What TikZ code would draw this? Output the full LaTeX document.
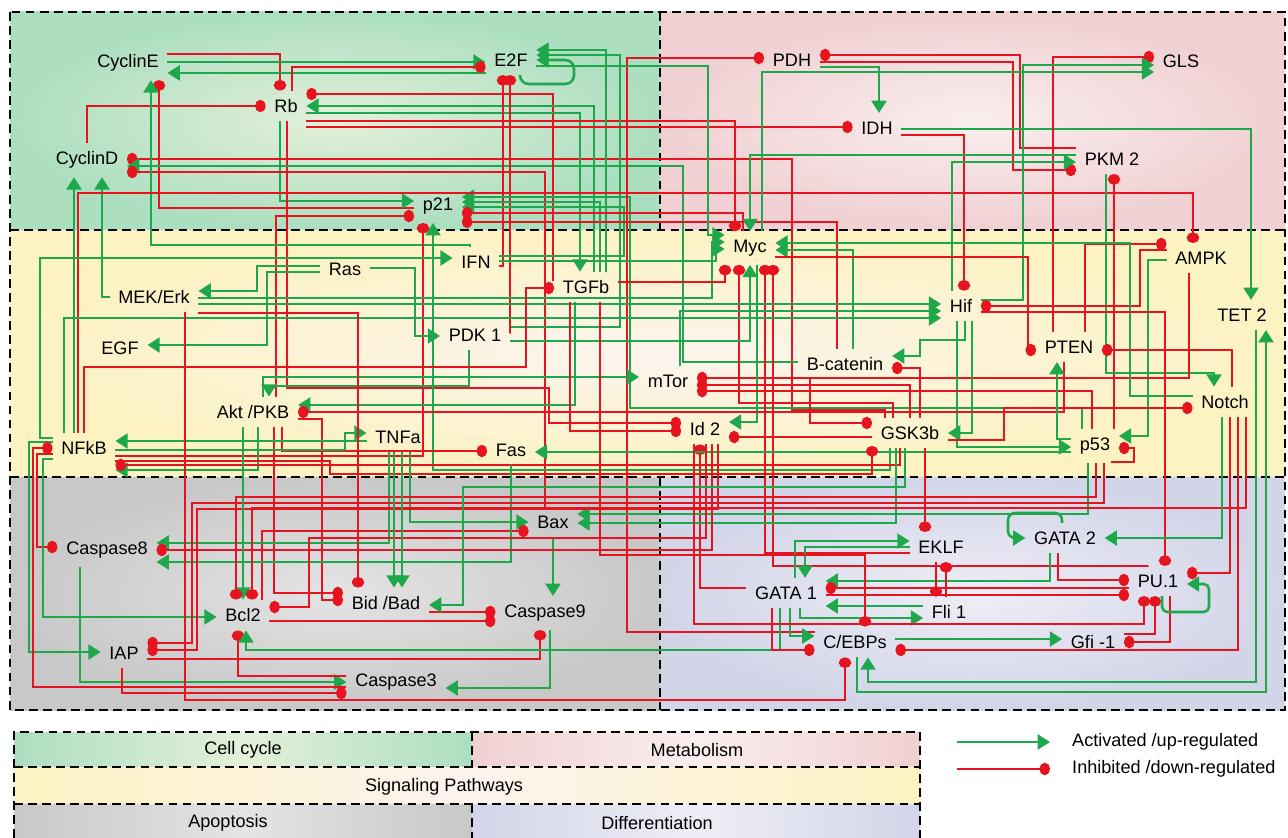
\documentclass[tikz,border=0pt]{standalone}
\usepackage{fontspec}
\setmainfont{Liberation Sans}
\usetikzlibrary{arrows.meta}
\definecolor{upgreen}{RGB}{30,168,75}
\definecolor{downred}{RGB}{230,20,30}
\definecolor{cellout}{RGB}{172,222,192}
\definecolor{cellin}{RGB}{228,240,218}
\definecolor{metout}{RGB}{240,208,210}
\definecolor{metin}{RGB}{250,238,238}
\definecolor{sigout}{RGB}{252,242,194}
\definecolor{sigin}{RGB}{252,244,238}
\definecolor{apoout}{RGB}{200,200,200}
\definecolor{apoin}{RGB}{228,228,228}
\definecolor{difout}{RGB}{210,213,232}
\definecolor{difin}{RGB}{238,238,246}
\begin{document}
\begin{tikzpicture}[x=0.02cm,y=-0.02cm]

\tikzset{gene/.style={font=\fontsize{10.3}{12}\selectfont,inner sep=1pt,outer sep=4pt}}
\tikzset{act/.style={draw=upgreen,line width=1.45pt,-{Triangle[length=7pt,width=8.5pt]}}}
\tikzset{inh/.style={draw=downred,line width=1.45pt,-{Circle[length=6pt,width=7pt]}}}
\tikzset{zone/.style={draw=black,line width=1pt,dash pattern=on 5pt off 3pt}}
\tikzset{keytext/.style={font=\fontsize{10.3}{12}\selectfont}}

\useasboundingbox (0,0) rectangle (1288,838);

% regions
\shade[inner color=cellin,outer color=cellout] (10,12) rectangle (660,230);
\shade[inner color=metin,outer color=metout] (660,12) rectangle (1285,230);
\shade[inner color=sigin,outer color=sigout] (10,230) rectangle (1285,477);
\shade[inner color=apoin,outer color=apoout] (10,477) rectangle (660,710);
\shade[inner color=difin,outer color=difout] (660,477) rectangle (1285,710);
\draw[zone] (10,12) rectangle (1285,710);
\draw[zone] (10,230) -- (1285,230) (10,477) -- (1285,477)
            (660,12) -- (660,230) (660,477) -- (660,710);

% genes
\node[gene] (cyclinE) at (128,63)  {CyclinE};
\node[gene] (e2f)     at (511,60)  {E2F};
\node[gene] (rb)      at (286,106) {Rb};
\node[gene] (cyclinD) at (87,160)  {CyclinD};
\node[gene] (p21)     at (438,206) {p21};
\node[gene] (pdh)     at (792,60)  {PDH};
\node[gene] (gls)     at (1181,61) {GLS};
\node[gene] (idh)     at (877,128) {IDH};
\node[gene] (pkm)     at (1112,159) {PKM 2};
\node[gene] (ampk)    at (1201,258) {AMPK};
\node[gene] (myc)     at (750,248) {Myc};
\node[gene] (ifn)     at (476,262) {IFN};
\node[gene] (ras)     at (345,269) {Ras};
\node[gene] (tgfb)    at (586,287) {TGFb};
\node[gene] (mek)     at (154,297) {MEK/Erk};
\node[gene] (hif)     at (961,306) {Hif};
\node[gene] (tet)     at (1242,315) {TET 2};
\node[gene] (pdk)     at (475,335) {PDK 1};
\node[gene] (egf)     at (120,348) {EGF};
\node[gene] (pten)    at (1069,347) {PTEN};
\node[gene] (bcat)    at (845,364) {B-catenin};
\node[gene] (mtor)    at (668,381) {mTor};
\node[gene] (akt)     at (253,412) {Akt /PKB};
\node[gene] (notch)   at (1225,402) {Notch};
\node[gene] (id2)     at (705,429) {Id 2};
\node[gene] (gsk)     at (910,433) {GSK3b};
\node[gene] (tnfa)    at (398,437) {TNFa};
\node[gene] (nfkb)    at (84,448)  {NFkB};
\node[gene] (fas)     at (511,450) {Fas};
\node[gene] (p53)     at (1095,446) {p53};
\node[gene] (bax)     at (553,522) {Bax};
\node[gene] (casp8)   at (107,550) {Caspase8};
\node[gene] (gata2)   at (1065,538) {GATA 2};
\node[gene] (eklf)    at (941,547) {EKLF};
\node[gene] (pu1)     at (1158,581) {PU.1};
\node[gene] (gata1)   at (786,593) {GATA 1};
\node[gene] (bidbad)  at (386,603) {Bid /Bad};
\node[gene] (bcl2)    at (243,615) {Bcl2};
\node[gene] (casp9)   at (545,613) {Caspase9};
\node[gene] (fli1)    at (949,612) {Fli 1};
\node[gene] (iap)     at (124,653) {IAP};
\node[gene] (gfi)     at (1093,642) {Gfi -1};
\node[gene] (cebp)    at (855,642) {C/EBPs};
\node[gene] (casp3)   at (396,682) {Caspase3};

% cell cycle
\draw[inh] (cyclinE.east |- 0,54) -| (rb.north -| 280,0);
\draw[act] (cyclinE.east |- 0,62) -- (e2f.west |- 0,62);
\draw[act] (e2f.west |- 0,73) -- (cyclinE.east |- 0,73);
\draw[inh] (rb.north -| 292,0) |- (e2f.west |- 0,67);
\draw[act,rounded corners=5pt] (e2f.south -| 520,0) |- (574,84) |- (e2f.east |- 0,60);
\draw[inh] (cyclinD.north -| 87,0) |- (rb.west |- 0,106);
\draw[inh] (p21.west |- 0,208) -| (cyclinE.south -| 159,0);
\draw[act] (rb.south -| 280,0) |- (p21.west |- 0,201);
\draw[inh] (akt.north -| 276,0) |- (p21.west |- 0,216);
\draw[inh] (rb.south -| 287,0) |- (549,388) |- (id2.west |- 0,423);
\draw[inh] (gsk.north -| 885,0) |- (792,410) |- (cyclinD.east |- 0,159);
\draw[act] (bcat.west |- 0,362) -| (683,166) -- (cyclinD.east |- 0,166);
\draw[inh] (bax.north -| 545,0) |- (cyclinD.east |- 0,172);
\draw[act] (nfkb.north -| 74,0) -- (cyclinD.south -| 74,0);
\draw[act] (mek.west |- 0,297) -| (cyclinD.south -| 102,0);
\draw[inh] (tgfb.west |- 0,280) -| (553,94) -- (rb.east |- 0,94);
\draw[act] (tgfb.north -| 594,0) |- (rb.east |- 0,106);
\draw[act] (rb.east |- 0,113) -| (tgfb.north -| 580,0);
\draw[inh] (rb.east |- 0,121) -| (myc.north -| 735,0);
\draw[act] (ifn.north -| 470,0) |- (151,245) -- (cyclinE.south -| 151,0);
\draw[act] (tgfb.north -| 606,0) |- (e2f.east |- 0,50);
\draw[act] (pdk.east |- 0,327) -| (620,55) -- (e2f.east |- 0,55);
\draw[inh] (pdk.east |- 0,333) -| (e2f.south -| 510,0);
\draw[inh] (ifn.east |- 0,266) -| (e2f.south -| 503,0);
\draw[act] (p53.north -| 1082,0) |- (630,408) |- (p21.east |- 0,197);
\draw[act] (tgfb.north -| 600,0) |- (p21.east |- 0,202);
\draw[act] (ifn.east |- 0,256) -| (624,207) -- (p21.east |- 0,207);
\draw[inh] (myc.north -| 743,0) |- (p21.east |- 0,213);
\draw[inh] (bcat.north -| 837,0) |- (p21.east |- 0,222);
\draw[inh] (nfkb.east |- 0,456) -| (p21.south -| 423,0);
\draw[act] (gsk.south -| 890,0) |- (433,470) -- (p21.south -| 433,0);
\draw[inh] (nfkb.north -| 78,0) |- (1193,193) -- (ampk.north -| 1193,0);

% metabolism
\draw[inh] (cebp.west |- 0,632) -| (627,58) -- (pdh.west |- 0,58);
\draw[inh] (pdh.east |- 0,62) -| (1013,170) -- (pkm.west |- 0,170);
\draw[inh] (pkm.west |- 0,148) -| (1020,55) -- (pdh.east |- 0,55);
\draw[act] (pdh.east |- 0,67) -| (idh.north -| 879,0);
\draw[inh] (rb.east |- 0,127) -- (idh.west |- 0,127);
\draw[act] (idh.east |- 0,129) -| (tet.north -| 1251,0);
\draw[inh] (idh.east |- 0,135) -| (hif.north -| 964,0);
\draw[inh] (pten.north -| 1053,0) |- (gls.west |- 0,57);
\draw[act] (hif.east |- 0,300) -| (1023,65) -- (gls.west |- 0,65);
\draw[act] (myc.north -| 762,0) |- (gls.west |- 0,72);
\draw[act] (pkm.west |- 0,155) -| (myc.north -| 750,0);
\draw[act] (hif.north -| 952,0) |- (pkm.west |- 0,162);
\draw[inh] (p53.north -| 1114,0) -- (pkm.south -| 1114,0);
\draw[act] (pkm.south -| 1106,0) |- (1214,373) -- (notch.north -| 1214,0);
\draw[inh] (ampk.west |- 0,250) -| (1140,306) -- (hif.east |- 0,306);
\draw[inh] (pten.north -| 1085,0) |- (ampk.west |- 0,244);
\draw[act] (ampk.west |- 0,260) -| (1148,436) -- (p53.east |- 0,436);
\draw[inh] (ampk.south -| 1189,0) |- (mtor.east |- 0,378);

% signaling
\draw[act] (e2f.east |- 0,66) -| (708,235) -- (myc.west |- 0,235);
\draw[act] (mek.east |- 0,298) -| (712,242) -- (myc.west |- 0,242);
\draw[act] (ifn.east |- 0,261) -| (716,249) -- (myc.west |- 0,249);
\draw[act] (bcat.north -| 853,0) |- (myc.east |- 0,250);
\draw[act] (notch.west |- 0,396) -| (1130,243) -- (myc.east |- 0,243);
\draw[inh] (myc.east |- 0,257) -| (1028,350) -- (pten.west |- 0,350);
\draw[inh] (tgfb.east |- 0,282) -| (myc.south -| 725,0);
\draw[inh] (gsk.north -| 893,0) |- (739,403) -- (myc.south -| 739,0);
\draw[act] (pdk.east |- 0,341) -| (myc.south -| 750,0);
\draw[act] (myc.south -| 757,0) |- (id2.east |- 0,422);
\draw[inh] (eklf.west |- 0,553) -| (myc.south -| 765,0);
\draw[inh] (pu1.north -| 1148,0) |- (773,566) -- (myc.south -| 773,0);
\draw[act] (mek.east |- 0,304) -- (hif.west |- 0,304);
\draw[act] (mtor.north -| 680,0) |- (hif.west |- 0,311);
\draw[act] (nfkb.north -| 64,0) |- (hif.west |- 0,318);
\draw[act] (hif.south -| 965,0) |- (920,340) |- (bcat.east |- 0,356);
\draw[inh] (hif.east |- 0,312) -| (pu1.north -| 1165,0);
\draw[act] (hif.south -| 972,0) |- (gsk.east |- 0,433);
\draw[act] (hif.south -| 957,0) |- (p53.west |- 0,447);
\draw[act] (akt.north -| 263,0) |- (mtor.west |- 0,377);
\draw[act] (pdk.south -| 469,0) |- (269,386) -- (akt.north -| 269,0);
\draw[act] (tgfb.south -| 575,0) |- (akt.east |- 0,405);
\draw[inh] (pten.south -| 1064,0) |- (akt.east |- 0,412);
\draw[inh] (akt.east |- 0,419) -| (322,600) -- (bidbad.west |- 0,600);
\draw[inh] (akt.south -| 274,0) |- (bidbad.west |- 0,593);
\draw[inh] (akt.south -| 282,0) |- (fas.west |- 0,451);
\draw[act] (akt.south -| 258,0) |- (nfkb.east |- 0,470);
\draw[inh] (gsk.north -| 910,0) |- (mtor.east |- 0,385);
\draw[inh] (p53.north -| 1092,0) |- (mtor.east |- 0,391);
\draw[inh] (bcat.south -| 810,0) |- (gsk.west |- 0,423);
\draw[inh] (gsk.north -| 920,0) |- (bcat.east |- 0,368);
\draw[inh] (tgfb.south -| 570,0) |- (id2.west |- 0,431);
\draw[inh] (gsk.west |- 0,437) -- (id2.east |- 0,437);
\draw[inh] (gata1.west |- 0,588) -| (id2.south -| 700,0);
\draw[inh] (notch.north -| 1232,0) |- (pten.east |- 0,350);
\draw[inh] (gsk.east |- 0,440) -| (1004,408) -- (notch.west |- 0,408);
\draw[act] (p53.west |- 0,439) -| (pten.south -| 1057,0);
\draw[act] (p53.west |- 0,452) -- (fas.east |- 0,452);
\draw[inh] (p53.south -| 1112,0) |- (1134,462) |- (p53.east |- 0,448);
\draw[act] (ras.west |- 0,266) -| (257,291) -- (mek.east |- 0,291);
\draw[act] (ras.west |- 0,272) -| (267,345) -- (egf.east |- 0,345);
\draw[act] (ras.east |- 0,268) -| (415,336) -- (pdk.west |- 0,336);
\draw[act] (nfkb.west |- 0,438) -| (40,258) -- (ifn.west |- 0,258);
\draw[inh] (nfkb.north -| 84,0) |- (526,367) |- (tgfb.west |- 0,288);
\draw[act] (tnfa.west |- 0,441) -- (nfkb.east |- 0,441);
\draw[act] (nfkb.east |- 0,450) -| (345,433) -- (tnfa.west |- 0,433);
\draw[inh] (nfkb.east |- 0,461) -| (330,474) -| (gsk.west |- 0,446);
\draw[inh] (gsk.south -| 900,0) |- (nfkb.east |- 0,465);

% apoptosis
\draw[act] (tnfa.south -| 410,0) |- (bax.west |- 0,522);
\draw[inh] (bcl2.north -| 262,0) |- (bax.west |- 0,531);
\draw[act] (bax.south -| 553,0) -- (casp9.north -| 553,0);
\draw[act] (p53.south -| 1088,0) |- (bax.east |- 0,514);
\draw[act] (gsk.south -| 896,0) |- (bax.east |- 0,523);
\draw[act] (tnfa.south -| 389,0) |- (casp8.east |- 0,543);
\draw[act] (fas.south -| 511,0) |- (casp8.east |- 0,562);
\draw[inh] (id2.south -| 712,0) |- (casp8.east |- 0,550);
\draw[inh] (nfkb.west |- 0,454) -| (37,547) -- (casp8.west |- 0,547);
\draw[act] (casp8.south -| 80,0) |- (casp3.west |- 0,682);
\draw[act] (nfkb.west |- 0,442) -| (29,652) -- (iap.west |- 0,652);
\draw[inh] (casp3.west |- 0,687) -| (33,448) -- (nfkb.west |- 0,448);
\draw[act] (nfkb.west |- 0,459) -| (43,617) -- (bcl2.west |- 0,617);
\draw[inh] (p53.south -| 1104,0) |- (192,503) |- (iap.east |- 0,643);
\draw[inh] (id2.south -| 718,0) |- (197,509) |- (iap.east |- 0,650);
\draw[inh] (iap.east |- 0,659) -| (casp9.south -| 540,0);
\draw[inh] (iap.south -| 122,0) |- (casp3.west |- 0,693);
\draw[inh] (mek.south -| 185,0) |- (845,700) -- (cebp.south -| 845,0);
\draw[act] (akt.south -| 243,0) -- (bcl2.north -| 243,0);
\draw[inh] (p53.south -| 1096,0) |- (236,497) -- (bcl2.north -| 236,0);
\draw[inh] (notch.south -| 1246,0) |- (252,508) -- (bcl2.north -| 252,0);
\draw[inh] (id2.south -| 706,0) |- (309,538) |- (bcl2.east |- 0,607);
\draw[inh] (bcl2.east |- 0,621) -- (casp9.west |- 0,621);
\draw[inh] (bidbad.east |- 0,612) -- (casp9.west |- 0,612);
\draw[act] (gsk.south -| 905,0) |- (463,487) |- (bidbad.east |- 0,605);
\draw[inh] (mek.east |- 0,313) -| (bidbad.north -| 358,0);
\draw[act] (tnfa.south -| 394,0) -- (bidbad.north -| 394,0);
\draw[act] (tnfa.south -| 402,0) -- (bidbad.north -| 402,0);
\draw[act] (casp9.south -| 550,0) |- (casp3.east |- 0,688);
\draw[inh] (casp3.west |- 0,676) -| (bcl2.south -| 238,0);
\draw[act] (gata1.south -| 780,0) |- (246,650) -- (bcl2.south -| 246,0);

% differentiation
\draw[act,rounded corners=4pt] (gata2.north -| 1062,0) |- (1008,513) |- (gata2.west |- 0,538);
\draw[act] (notch.south -| 1222,0) |- (gata2.east |- 0,538);
\draw[act] (gata2.south -| 1050,0) |- (gata1.east |- 0,581);
\draw[inh] (gata2.south -| 1058,0) |- (pu1.west |- 0,580);
\draw[inh] (pu1.west |- 0,588) -- (gata1.east |- 0,588);
\draw[inh] (gata1.east |- 0,595) -- (pu1.west |- 0,595);
\draw[act] (gata1.north -| 795,0) |- (eklf.west |- 0,541);
\draw[act] (eklf.west |- 0,547) -| (gata1.north -| 805,0);
\draw[inh] (eklf.south -| 936,0) -- (fli1.north -| 936,0);
\draw[inh] (fli1.north -| 946,0) -- (eklf.south -| 946,0);
\draw[inh] (gsk.south -| 925,0) -- (eklf.north -| 925,0);
\draw[act] (gata1.south -| 800,0) |- (fli1.west |- 0,618);
\draw[act] (fli1.west |- 0,606) -- (gata1.east |- 0,606);
\draw[inh] (gata1.south -| 772,0) |- (cebp.west |- 0,650);
\draw[act] (gata1.south -| 790,0) |- (cebp.west |- 0,636);
\draw[inh] (tgfb.south -| 600,0) |- (865,555) -- (cebp.north -| 865,0);
\draw[act] (cebp.east |- 0,639) -- (gfi.west |- 0,639);
\draw[inh] (notch.south -| 1238,0) |- (cebp.east |- 0,650);
\draw[act] (cebp.south -| 857,0) |- (1266,692) -- (tet.south -| 1266,0);
\draw[act] (tet.south -| 1256,0) |- (868,682) -- (cebp.south -| 868,0);
\draw[inh] (pu1.south -| 1170,0) |- (gfi.east |- 0,642);
\draw[inh] (gfi.east |- 0,634) -| (pu1.south -| 1155,0);
\draw[inh] (id2.south -| 694,0) |- (1144,624) -- (pu1.south -| 1144,0);
\draw[act,rounded corners=3pt] (pu1.south -| 1162,0) |- (1209,612) |- (pu1.east |- 0,584);
\draw[inh] (notch.south -| 1230,0) |- (pu1.east |- 0,573);

% key
\shade[left color=cellout,right color=cellout,middle color=cellin] (14,732) rectangle (472,767);
\shade[left color=metout,right color=metout,middle color=metin] (472,732) rectangle (920,767);
\shade[left color=sigout,right color=sigout,middle color=sigin] (14,767) rectangle (920,804);
\shade[left color=apoout,right color=apoout,middle color=apoin] (14,804) rectangle (472,838);
\shade[left color=difout,right color=difout,middle color=difin] (472,804) rectangle (920,838);
\draw[zone] (14,838) -- (14,732) -- (920,732) -- (920,838)
            (14,767) -- (920,767) (14,804) -- (920,804)
            (472,732) -- (472,767) (472,804) -- (472,838);
\node[keytext] (kcell) at (243,750) {Cell cycle};
\node[keytext] (kmet)  at (697,750) {Metabolism};
\node[keytext] (ksig)  at (444,787) {Signaling Pathways};
\node[keytext] (kapo)  at (228,823) {Apoptosis};
\node[keytext] (kdif)  at (657,823) {Differentiation};
\coordinate (actA) at (957,742);
\coordinate (actB) at (1050,742);
\coordinate (inhA) at (957,769);
\coordinate (inhB) at (1050,769);
\draw[act] (actA) -- (actB);
\draw[inh] (inhA) -- (inhB);
\node[keytext,anchor=west] (kact) at (1066,742) {Activated /up-regulated};
\node[keytext,anchor=west] (kinh) at (1066,769) {Inhibited /down-regulated};

\end{tikzpicture}
\end{document}
